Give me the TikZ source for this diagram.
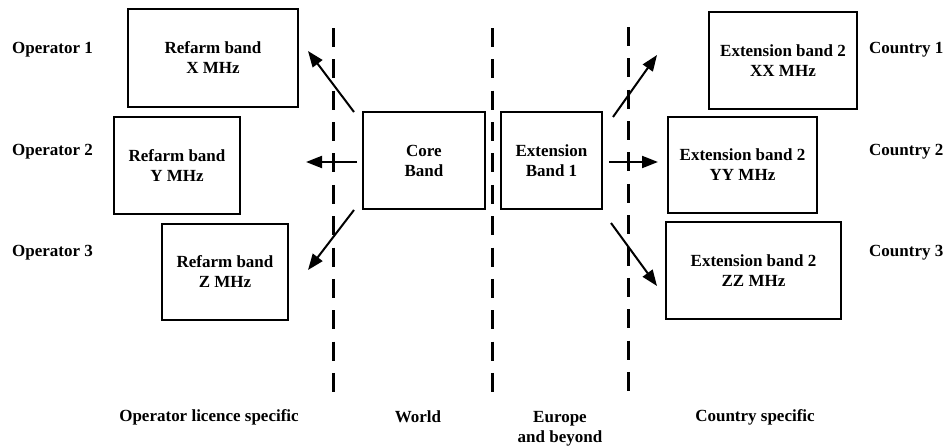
\documentclass[tikz,border=0pt]{standalone}
\usepackage{fontspec}
\setmainfont{Liberation Serif}
\usetikzlibrary{arrows.meta,calc}

\begin{document}
\begin{tikzpicture}[x=1pt, y=-1pt,
		every node/.style = {font=\fontsize{17}{20}\selectfont\bfseries, align=center, inner sep=0pt},
		band/.style = {draw, line width=2pt},
		split/.style = {line width=3pt, dash pattern=on 19pt off 12.36pt},
		spread/.style = {line width=2pt, -{Triangle[length=16pt, width=12pt]}}]
			\useasboundingbox (0,0) rectangle (946,447);
			%region borders
			\draw[split] (333,28) -- (333,392);
			\draw[split] (492,28) -- (492,392);
			\draw[split] (628,27) -- (628,391);
			%bands
			\node[band, minimum width=170pt, minimum height=98pt] (refx) at (213,58) {Refarm band\\X MHz};
			\node[band, minimum width=126pt, minimum height=97pt] (refy) at (177,165.5) {Refarm band\\Y MHz};
			\node[band, minimum width=126pt, minimum height=96pt] (refz) at (225,272) {Refarm band\\Z MHz};
			\node[band, minimum width=122pt, minimum height=97pt] (core) at (424,160.5) {Core\\Band};
			\node[band, minimum width=101pt, minimum height=97pt] (ext) at (551.5,160.5) {Extension\\Band 1};
			\node[band, minimum width=148pt, minimum height=97pt] (extxx) at (783,60.5) {Extension band 2\\XX MHz};
			\node[band, minimum width=149pt, minimum height=96pt] (extyy) at (742.5,165) {Extension band 2\\YY MHz};
			\node[band, minimum width=175pt, minimum height=97pt] (extzz) at (753.5,270.5) {Extension band 2\\ZZ MHz};
			%row labels
			\node[anchor=west] (op1) at (12,50) {Operator 1};
			\node[anchor=west] (op2) at (12,152) {Operator 2};
			\node[anchor=west] (op3) at (12,253) {Operator 3};
			\node[anchor=west] (co1) at (869,50) {Country 1};
			\node[anchor=west] (co2) at (869,152) {Country 2};
			\node[anchor=west] (co3) at (869,253) {Country 3};
			%column labels
			\node (oplic) at (209,417) {Operator licence specific};
			\node (world) at (418,417) {World};
			\node[anchor=north] (europe) at (560,411) {Europe\\and beyond};
			\node (cospec) at (755,417) {Country specific};
			%arrow ends
			\coordinate (c1) at ($(core.north west)+(-8,1)$);
			\coordinate (c2) at ($(core.west)+(-5,1.5)$);
			\coordinate (c3) at ($(core.south west)+(-8,0)$);
			\coordinate (x1) at ($(refx.east)+(9,-7)$);
			\coordinate (y1) at ($(refy.east)+(65,-3.5)$);
			\coordinate (z1) at ($(refz.east)+(19,-2)$);
			\coordinate (e1) at ($(ext.north east)+(10,6)$);
			\coordinate (e2) at ($(ext.east)+(6,1.5)$);
			\coordinate (e3) at ($(ext.south east)+(8,13)$);
			\coordinate (xx1) at ($(extxx.west)+(-51,-5.5)$);
			\coordinate (yy1) at ($(extyy.west)+(-9,-3)$);
			\coordinate (zz1) at ($(extzz.west)+(-8,15.5)$);
			%arrows
			\draw[spread] (c1) -- (x1);
			\draw[spread] (c2) -- (y1);
			\draw[spread] (c3) -- (z1);
			\draw[spread] (e1) -- (xx1);
			\draw[spread] (e2) -- (yy1);
			\draw[spread] (e3) -- (zz1);
		\end{tikzpicture}
\end{document}
